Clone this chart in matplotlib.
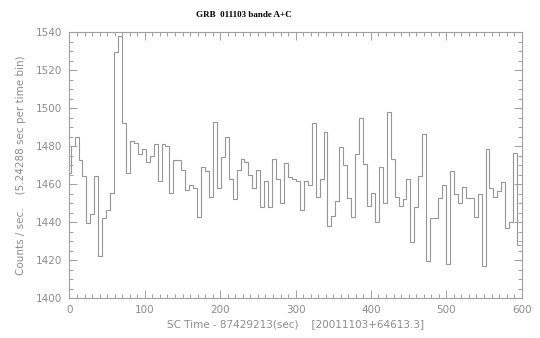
import numpy as np
from matplotlib import pyplot as plt
from matplotlib.ticker import MultipleLocator

# count rate per 5.24288 s bin (first and last bins are cut by the axis)
bin_width = 5.24288
first_edge = 1.5
rate = [1466,
        1480, 1484.7, 1472.5, 1464, 1439.5, 1444, 1464, 1422, 1442.3, 1446.5,
        1455.3, 1529.5, 1537.7, 1492, 1466, 1482.6, 1481.6, 1475.6, 1478.6, 1471.8,
        1474.6, 1481.2, 1461.6, 1480.9, 1480, 1455.4, 1472.8, 1472.8, 1467.2, 1457,
        1459.6, 1458,
        1442.8, 1468.8, 1467, 1453.3, 1492.8, 1457.7, 1474, 1485, 1462.5, 1452.3,
        1467.4, 1473.2, 1471.4, 1464.7, 1457.7, 1467.4, 1447.7, 1461.6, 1447.7, 1473,
        1462.6, 1449.8, 1470.9, 1463.5, 1462.6, 1461.8, 1446.3, 1461.6, 1459.3, 1491.9,
        1453.3, 1462.5, 1487.5,
        1438, 1443.3, 1451.2, 1479.6, 1469.8, 1452.5, 1442.8, 1475.8, 1494.6, 1470.4,
        1448.4, 1455.4, 1440, 1469.1, 1450.2, 1498, 1473, 1453, 1448.4, 1452,
        1462.8, 1429.3, 1448, 1464.2, 1486.3, 1419.6, 1442.1, 1442.3, 1452.5, 1459.5,
        1417.9,
        1466.8, 1454.6, 1449.8, 1458.6, 1452.5, 1452.8, 1442.8, 1454.7, 1416.8, 1478.4,
        1458, 1453.3, 1456.3, 1461, 1436.7, 1440.2, 1476.1,
        1428]

edges = first_edge - bin_width + bin_width * np.arange(len(rate) + 1)

grey = '#a0a0a0'
line_grey = '#969696'

fig = plt.figure(figsize=(5.4, 3.38), dpi=100)
ax = fig.add_axes([0.1287, 0.1183, 0.8374, 0.787])
ax.stairs(rate, edges, baseline=None, color=line_grey, linewidth=0.8)

ax.set_xlim(0, 600)
ax.set_ylim(1400, 1540)
ax.xaxis.set_major_locator(MultipleLocator(100))
ax.xaxis.set_minor_locator(MultipleLocator(10))
ax.yaxis.set_major_locator(MultipleLocator(20))
ax.yaxis.set_minor_locator(MultipleLocator(5))
ax.tick_params(which='both', direction='in', top=True, right=True,
               color=grey, width=0.7, labelcolor='#8c8c8c', labelsize=7.5)
ax.tick_params(which='major', length=6, pad=5)
ax.tick_params(which='minor', length=3)
for s in ax.spines.values():
    s.set_color(grey)
    s.set_linewidth(0.8)

ax.set_xlabel('SC Time - 87429213(sec)    [20011103+64613.3]', color='#8c8c8c', fontsize=7.5, labelpad=3)
ax.set_ylabel('Counts / sec.    (5.24288 sec per time bin)', color='#8c8c8c', fontsize=7.5, labelpad=7)
fig.text(0.452, 0.955, 'GRB  011103 bande A+C', ha='center', va='center',
         family='Liberation Serif', fontweight='bold', fontsize=6.5)

plt.savefig('out.png', dpi=100)
